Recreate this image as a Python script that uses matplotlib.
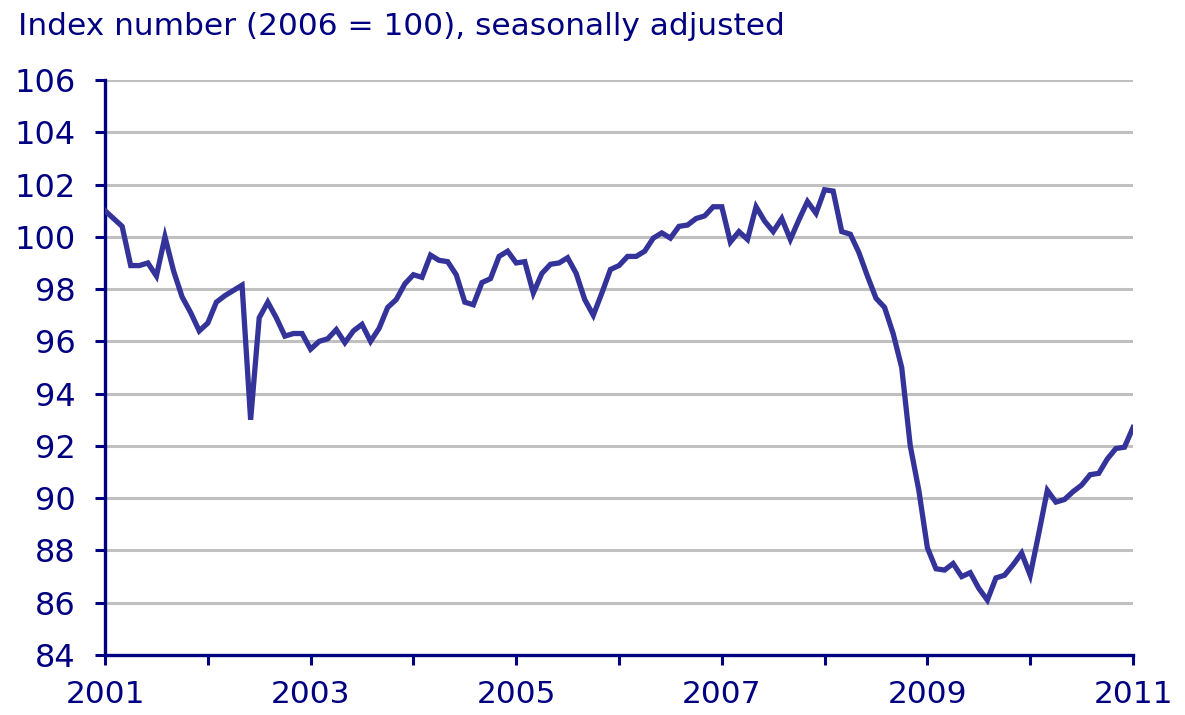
import matplotlib
matplotlib.use("Agg")
import matplotlib.pyplot as plt
import numpy as np

# Monthly index values, Jan 2001 .. Jan 2011 (2006 = 100, seasonally adjusted)
VALUES_2001 = [101.0, 100.7, 100.4, 98.9, 98.9, 99.0, 98.5, 100.0, 98.7, 97.7, 97.1, 96.4]
VALUES_2002 = [96.7, 97.5, 97.75, 97.95, 98.15, 93.0, 96.9, 97.5, 96.9, 96.2, 96.3, 96.3]
VALUES_2003 = [95.7, 96.0, 96.1, 96.45, 95.95, 96.4, 96.65, 96.0, 96.5, 97.3, 97.6, 98.2]
VALUES_2004 = [98.55, 98.45, 99.3, 99.1, 99.05, 98.55, 97.5, 97.4, 98.25, 98.4, 99.25, 99.45]
VALUES_2005 = [99.0, 99.05, 97.85, 98.6, 98.95, 99.0, 99.2, 98.6, 97.6, 97.0, 97.85, 98.75]
VALUES_2006 = [98.9, 99.25, 99.25, 99.45, 99.95, 100.15, 99.95, 100.4, 100.45, 100.7, 100.8, 101.15]
VALUES_2007 = [101.15, 99.8, 100.2, 99.9, 101.15, 100.6, 100.2, 100.7, 99.9, 100.65, 101.35, 100.9]
VALUES_2008 = [101.8, 101.75, 100.2, 100.1, 99.4, 98.5, 97.65, 97.3, 96.3, 95.0, 92.0, 90.3]
VALUES_2009 = [88.1, 87.3, 87.25, 87.5, 87.0, 87.15, 86.55, 86.1, 86.95, 87.05, 87.45, 87.9]
VALUES_2010 = [87.05, 88.65, 90.3, 89.85, 89.95, 90.25, 90.5, 90.9, 90.95, 91.5, 91.9, 91.95]
VALUES_2011 = [92.7]

START_YEAR = 2001
YEAR_TICKS = list(range(2001, 2012))
YEAR_LABELS = ["2001", "", "2003", "", "2005", "", "2007", "", "2009", "", "2011"]
Y_TICKS = list(range(84, 107, 2))
TITLE = "Index number (2006 = 100), seasonally adjusted"

NAVY = "#000080"
LINE_COLOR = "#333399"
GRID_COLOR = "#c0c0c0"

values = (VALUES_2001 + VALUES_2002 + VALUES_2003 + VALUES_2004 + VALUES_2005 + VALUES_2006
          + VALUES_2007 + VALUES_2008 + VALUES_2009 + VALUES_2010 + VALUES_2011)
x = START_YEAR + np.arange(len(values)) / 12.0

fig = plt.figure(figsize=(11.85, 7.15), dpi=100)
fig.patch.set_facecolor("white")
ax = fig.add_axes([105 / 1185, 1 - 655 / 715, (1133 - 105) / 1185, (655 - 80) / 715])

# horizontal gridlines only (84 sits on the axis)
for yv in Y_TICKS[1:]:
    ax.axhline(yv, color=GRID_COLOR, linewidth=2.2, zorder=1)

ax.plot(x, values, color=LINE_COLOR, linewidth=3.8, zorder=3, solid_joinstyle="miter")

ax.set_xlim(2001, 2011)
ax.set_ylim(84, 106)
ax.set_yticks(Y_TICKS)
ax.set_yticklabels([str(v) for v in Y_TICKS])
ax.set_xticks(YEAR_TICKS)
ax.set_xticklabels(YEAR_LABELS)

for side in ("top", "right"):
    ax.spines[side].set_visible(False)
for side in ("left", "bottom"):
    ax.spines[side].set_color(NAVY)
    ax.spines[side].set_linewidth(2.4)

ax.tick_params(axis="y", colors=NAVY, labelsize=23, length=7.2, width=2.2, pad=14)
ax.tick_params(axis="x", colors=NAVY, labelsize=22.5, length=7.2, width=2.2, pad=11)

fig.text(18 / 1185, 1 - 35 / 715, TITLE, color=NAVY, fontsize=22.5, ha="left", va="baseline")

fig.savefig("out.png", dpi=100, facecolor="white")
